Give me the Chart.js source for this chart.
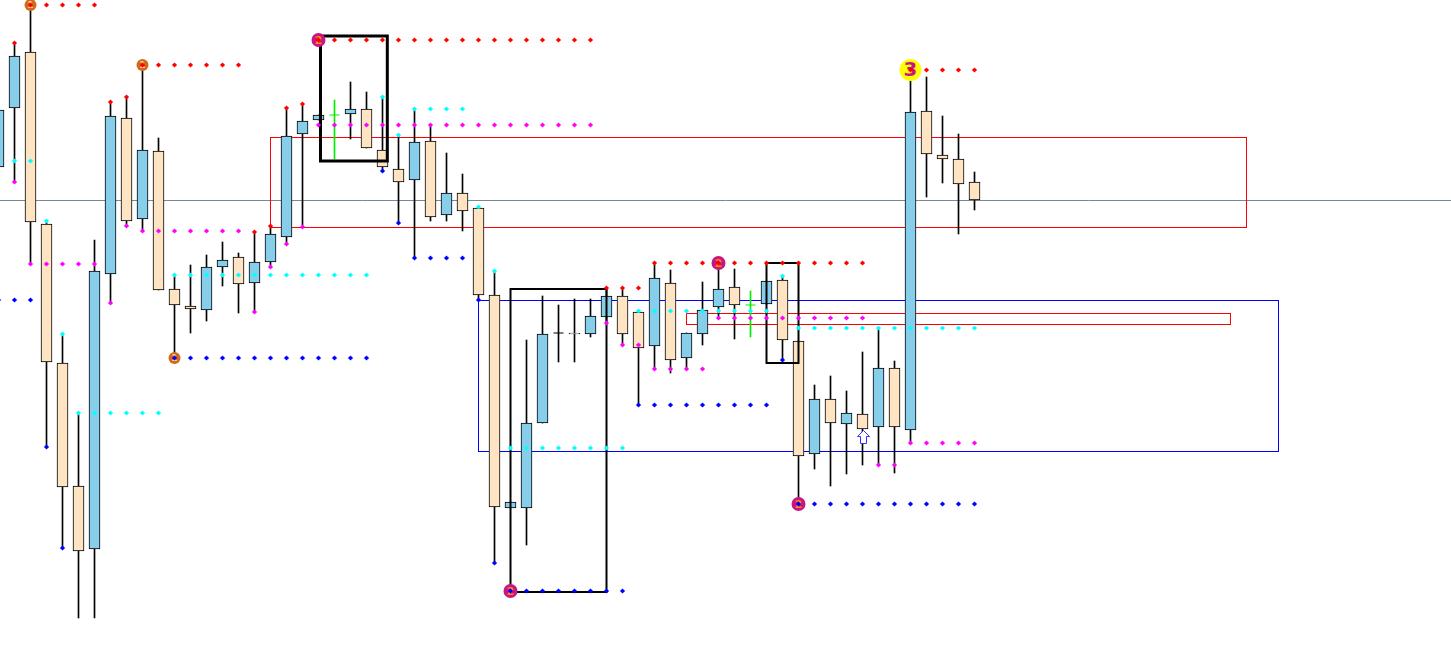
<!DOCTYPE html>
<html>
<head>
<meta charset="utf-8">
<script src="https://cdn.jsdelivr.net/npm/chart.js@4.4.1/dist/chart.umd.min.js"></script>
<style>
  html, body { margin: 0; padding: 0; background: #fff; }
  canvas { display: block; }
</style>
</head>
<body>
<canvas id="chart" width="1451" height="648"></canvas>
<script>
// bar 0 is the half hidden candle on the left edge
const opens  = [481, 540, 596, 424, 285, 162,  99, 374, 530, 429, 497, 359, 342, 338, 381, 391, 365, 386, 411, 514,
                528, 533, 534, 539, 498, 479, 468, 507, 433, 455, 440, 353, 140, 140, 225, 315, 315, 314, 331, 352,
                336, 302, 365, 290, 314, 341, 361, 343, 344, 368, 307, 194, 249, 224, 234, 221, 280, 218, 537, 493,
                489, 466];
const highs  = [548, 605, 643, 427, 314, 235, 408, 546, 551, 583, 510, 373, 383, 393, 406, 395, 416, 422, 540, 544,
                533, 548, 566, 556, 551, 513, 539, 523, 495, 474, 441, 377, 146, 308, 352, 343, 349, 349, 360, 360,
                337, 385, 378, 315, 366, 385, 379, 357, 367, 372, 307, 263, 272, 257, 296, 319, 287, 578, 571, 532,
                514, 476];
const lows   = [473, 466, 384, 201, 100,  30,  30, 345, 422, 417, 358, 290, 315, 327, 362, 335, 336, 381, 404, 421,
                528, 489, 509, 500, 477, 425, 390, 427, 427, 417, 348,  85, 140, 103, 225, 286, 286, 311, 325, 303,
                243, 279, 275, 279, 303, 330, 309, 311, 344, 288, 144, 179, 162, 174, 183, 183, 175, 205, 451, 465,
                414, 438];
const closes = [538, 592, 426, 286, 161,  97, 377, 532, 427, 498, 358, 343, 339, 381, 388, 364, 386, 414, 512, 527,
                533, 533, 539, 500, 481, 466, 506, 431, 455, 437, 353, 141, 146, 225, 314, 315, 314, 332, 352, 314,
                300, 370, 288, 315, 338, 359, 343, 343, 367, 308, 192, 249, 225, 235, 219, 280, 221, 536, 494, 489,
                464, 448];
const greenDojis = [21, 47];

// signal levels: [first bar, last bar, price]
const redLevels = [[1, 1, 605], [2, 6, 643], [7, 7, 546], [8, 8, 551], [9, 15, 583], [16, 16, 416], [17, 17, 422],
                   [18, 18, 540], [19, 19, 544], [20, 37, 608], [38, 40, 360], [41, 54, 385], [57, 61, 578]];
const magentaLevels = [[1, 1, 466], [2, 6, 384], [7, 7, 345], [8, 8, 422], [9, 15, 417], [16, 16, 336], [17, 17, 381],
                       [18, 18, 404], [19, 19, 421], [20, 37, 523], [38, 38, 325], [39, 40, 303], [41, 44, 279],
                       [45, 54, 330], [55, 56, 183], [57, 61, 205]];
const cyanLevels = [[1, 2, 487], [3, 3, 427], [4, 4, 314], [5, 10, 235], [11, 23, 373], [24, 24, 551], [25, 25, 513],
                    [26, 29, 539], [30, 30, 441], [31, 31, 377], [32, 39, 200], [40, 48, 337], [49, 49, 372],
                    [50, 61, 320]];
const blueLevels = [[0, 2, 348], [3, 3, 201], [4, 4, 100], [11, 23, 290], [24, 24, 477], [25, 25, 425], [26, 29, 390],
                    [30, 30, 348], [31, 31, 85], [32, 39, 57], [40, 48, 243], [49, 49, 288], [50, 61, 144]];

// numbered swing markers: [bar, price, label]
const swingOnes   = [[2, 643, '1'], [9, 583, '1'], [11, 290, '1']];
const swingTwos   = [[20, 608, '2'], [32, 57, '2'], [45, 385, '2'], [50, 144, '2']];
const swingThrees = [[57, 578, '3']];

// zones: [from bar, to bar, top price, bottom price]
const redZones   = [[17, 78, 511, 421], [43, 77, 335, 324]];
const blueZones  = [[30, 80, 347, 197]];
const blackBoxes = [[20.125, 24.3, 612, 487, 3], [32, 38, 359, 56, 2], [48, 50, 385, 285, 2]];
const levelLine = 448;
const upArrows = [[54, 218]];

const bars = opens.map((_, i) => i);

function dotsFrom(levels) {
  const pts = [];
  levels.forEach(([a, b, p]) => {
    for (let i = a; i <= b; i++) pts.push({ x: i, y: p });
  });
  return pts;
}

function dotSet(label, levels, color) {
  return {
    type: 'line',
    label: label,
    data: dotsFrom(levels),
    showLine: false,
    pointStyle: 'rectRot',
    pointRadius: 2.6,
    pointBorderWidth: 0,
    pointBackgroundColor: color,
    order: 1,
  };
}

const crisp = (v) => Math.round(v - 0.5) + 0.5;

const overlay = {
  id: 'overlay',
  beforeDatasetsDraw(chart) {
    const { ctx, chartArea, scales: { x, y } } = chart;
    ctx.save();
    ctx.lineWidth = 1;
    ctx.strokeStyle = '#778899';
    const ly = crisp(y.getPixelForValue(levelLine));
    ctx.beginPath();
    ctx.moveTo(chartArea.left, ly);
    ctx.lineTo(chartArea.right, ly);
    ctx.stroke();

    const zone = (z, color) => {
      const x0 = crisp(x.getPixelForValue(z[0]));
      const x1 = crisp(x.getPixelForValue(z[1]));
      const y0 = crisp(y.getPixelForValue(z[2]));
      const y1 = crisp(y.getPixelForValue(z[3]));
      ctx.strokeStyle = color;
      ctx.strokeRect(x0, y0, x1 - x0, y1 - y0);
    };
    redZones.forEach((z) => zone(z, '#ff0000'));
    blueZones.forEach((z) => zone(z, '#0000ff'));
    ctx.restore();
  },
  afterDatasetDraw(chart, args) {
    if (chart.data.datasets[args.index].label !== 'bodies') return;
    const { ctx, scales: { x, y } } = chart;
    ctx.save();

    blackBoxes.forEach(([a, b, top, bottom, w]) => {
      ctx.lineWidth = w;
      ctx.strokeStyle = '#000';
      const x0 = x.getPixelForValue(a);
      const x1 = x.getPixelForValue(b);
      const y0 = y.getPixelForValue(top);
      const y1 = y.getPixelForValue(bottom);
      ctx.strokeRect(x0, y0, x1 - x0, y1 - y0);
    });

    const marker = (list, r, fill, textColor, font) => {
      list.forEach(([i, p, txt]) => {
        const cx = x.getPixelForValue(i);
        const cy = y.getPixelForValue(p);
        ctx.fillStyle = fill;
        ctx.beginPath();
        ctx.arc(cx, cy, r, 0, Math.PI * 2);
        ctx.fill();
        ctx.fillStyle = textColor;
        ctx.font = font;
        ctx.textAlign = 'center';
        ctx.textBaseline = 'middle';
        ctx.fillText(txt, cx, cy + 1);
      });
    };
    marker(swingOnes, 6, '#d2691e', '#ffd27f', 'bold 9px "DejaVu Sans"');
    marker(swingTwos, 7, '#c71585', '#ff8c00', 'bold 11px "DejaVu Sans"');
    marker(swingThrees, 11, '#ffff00', '#c71585', 'bold 20px "DejaVu Sans"');

    upArrows.forEach(([i, p]) => {
      const cx = Math.round(x.getPixelForValue(i)) + 0.5;
      const ty = Math.round(y.getPixelForValue(p)) + 0.5;
      ctx.beginPath();
      ctx.moveTo(cx, ty);
      ctx.lineTo(cx + 6, ty + 6);
      ctx.lineTo(cx + 3, ty + 6);
      ctx.lineTo(cx + 3, ty + 13);
      ctx.lineTo(cx - 3, ty + 13);
      ctx.lineTo(cx - 3, ty + 6);
      ctx.lineTo(cx - 6, ty + 6);
      ctx.closePath();
      ctx.fillStyle = '#fff';
      ctx.fill();
      ctx.lineWidth = 1;
      ctx.strokeStyle = '#3333ff';
      ctx.stroke();
    });
    ctx.restore();
  },
};

const dojiBars = bars.filter((i) => opens[i] === closes[i]);

new Chart(document.getElementById('chart'), {
  type: 'bar',
  data: {
    datasets: [
      dotSet('red', redLevels, '#ff0000'),
      dotSet('magenta', magentaLevels, '#ff00ff'),
      dotSet('cyan', cyanLevels, '#00ffff'),
      dotSet('blue', blueLevels, '#0000ff'),
      {
        type: 'line',
        label: 'doji',
        data: dojiBars.map((i) => ({ x: i, y: opens[i] })),
        showLine: false,
        pointStyle: 'line',
        pointRadius: 5,
        pointBorderWidth: 1,
        pointBorderColor: dojiBars.map((i) => (greenDojis.includes(i) ? '#00ee00' : '#000')),
        order: 2,
      },
      {
        label: 'bodies',
        data: bars.map((i) => ({ x: i, y: [opens[i], closes[i]] })),
        backgroundColor: bars.map((i) => (closes[i] > opens[i] ? '#87ceeb' : '#ffe4c4')),
        borderColor: '#000',
        borderWidth: 1,
        borderSkipped: false,
        barThickness: 11,
        grouped: false,
        order: 4,
      },
      {
        label: 'wicks',
        data: bars.map((i) => ({ x: i, y: [lows[i], highs[i]] })),
        backgroundColor: bars.map((i) => (greenDojis.includes(i) ? '#00ee00' : '#000')),
        borderWidth: 0,
        barThickness: 1,
        grouped: false,
        order: 5,
      },
    ],
  },
  options: {
    responsive: false,
    animation: false,
    devicePixelRatio: 1,
    layout: { padding: 0, autoPadding: false },
    plugins: { legend: { display: false }, tooltip: { enabled: false } },
    scales: {
      x: { type: 'linear', min: 0.09375, max: 90.78125, offset: false, display: false },
      y: { min: 0, max: 648, display: false },
    },
  },
  plugins: [overlay],
});
</script>
</body>
</html>
